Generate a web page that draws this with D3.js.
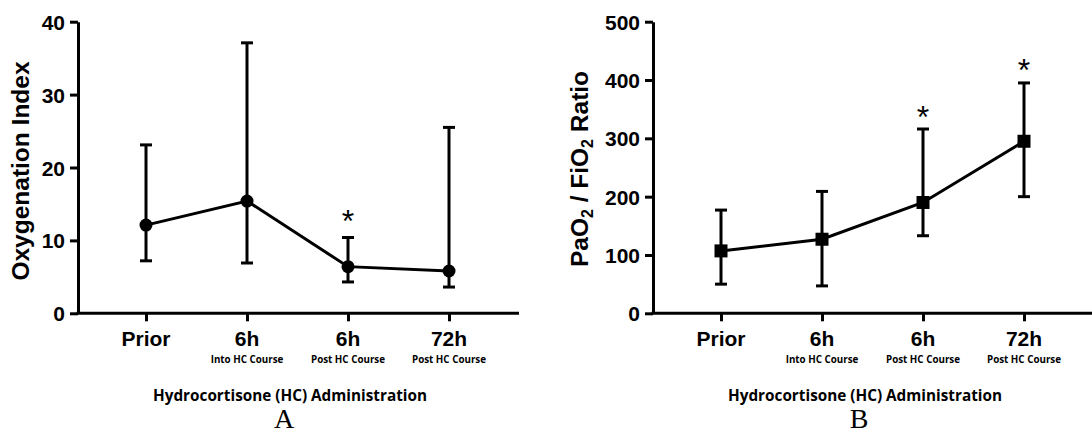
<!DOCTYPE html>
<html>
    <head>
        <script src="https://d3js.org/d3.v7.min.js"></script>
        <style>
            body{ margin:0; background:#fff; }
            .tick text{ font-family:"Liberation Sans", Arial, sans-serif; font-weight:bold; }
        </style>
    </head>
    <body>
        <svg height="436" width="1092" id="chart"></svg>
        <script>
            // x categories (two-line labels)
            const tickMain=["Prior", "6h", "6h", "72h"];
            const tickSub=["", "Into HC Course", "Post HC Course", "Post HC Course"];

            // A: oxygenation index, median with range
            const oiMean=[12.1, 15.4, 6.4, 5.8];
            const oiLow=[7.2, 6.9, 4.3, 3.6];
            const oiHigh=[23.1, 37.1, 10.4, 25.5];
            const oiSig=[false, false, true, false];
            const oiTicks=[0, 10, 20, 30, 40];

            // B: PaO2 / FiO2 ratio
            const pfMean=[107, 127, 190, 295];
            const pfLow=[50, 47, 133, 200];
            const pfHigh=[177, 209, 316, 395];
            const pfSig=[false, false, true, true];
            const pfTicks=[0, 100, 200, 300, 400, 500];

            const xTitle="Hydrocortisone (HC) Administration";

            let svg=d3.select("#chart");
            const plotTop=21.7, plotBottom=313.3;

            function drawPanel(opt){
                let g=svg.append("g");
                let x=d3.scaleLinear().domain([0, 3]).range([opt.axisX+68, opt.axisX+68+303]);
                let y=d3.scaleLinear().domain([0, opt.max]).range([plotBottom, plotTop]);

                // y axis
                let yAxis=g.append("g")
                    .attr("transform", `translate(${opt.axisX},0)`)
                    .call(d3.axisLeft(y).tickValues(opt.ticks).tickSize(8).tickSizeOuter(0).tickPadding(5));
                yAxis.selectAll("text").style("font-size", "21px").attr("dy", "0.36em");

                // x axis
                let xAxis=g.append("g")
                    .attr("transform", `translate(0,${plotBottom})`)
                    .call(d3.axisBottom(x).tickValues([0, 1, 2, 3]).tickSize(8).tickSizeOuter(0).tickFormat(""));
                xAxis.select(".domain").attr("d", `M${opt.axisX-1.5},0H${opt.axisEnd}`);

                svg.selectAll(".domain, .tick line")
                    .attr("stroke", "#000")
                    .attr("stroke-width", 3);

                // category labels
                g.selectAll("text.main").data(tickMain).join("text")
                    .attr("class", "main")
                    .attr("x", (d, i)=>x(i))
                    .attr("y", 345.5)
                    .attr("text-anchor", "middle")
                    .style("font-family", "'Liberation Sans', Arial, sans-serif")
                    .style("font-weight", "bold")
                    .style("font-size", "21px")
                    .text(d=>d);
                g.selectAll("text.sub").data(tickSub).join("text")
                    .attr("class", "sub")
                    .attr("x", (d, i)=>x(i))
                    .attr("y", 363)
                    .attr("text-anchor", "middle")
                    .style("font-family", "'Open Sans', sans-serif")
                    .style("font-weight", 700)
                    .style("font-size", "9.8px")
                    .text(d=>d);

                // x title
                g.append("text")
                    .attr("x", opt.axisX+212)
                    .attr("y", 400.5)
                    .attr("text-anchor", "middle")
                    .style("font-family", "'Open Sans', sans-serif")
                    .style("font-weight", 700)
                    .style("font-size", "15.3px")
                    .text(xTitle);

                // panel letter
                g.append("text")
                    .attr("x", opt.axisX+206)
                    .attr("y", 428)
                    .attr("text-anchor", "middle")
                    .style("font-family", "'Liberation Serif', 'Times New Roman', serif")
                    .style("font-size", "28px")
                    .text(opt.letter);

                // y title
                let yt=g.append("text")
                    .attr("transform", `translate(${opt.titleX},${opt.titleY}) rotate(-90)`)
                    .attr("text-anchor", "middle")
                    .style("font-family", "'Liberation Sans', Arial, sans-serif")
                    .style("font-weight", "bold")
                    .style("font-size", "24.5px");
                opt.title(yt);

                // error bars
                let idx=d3.range(opt.mean.length);
                let bars=g.selectAll("g.err").data(idx).join("g").attr("class", "err")
                    .attr("stroke", "#000").attr("stroke-width", 3);
                bars.append("line")
                    .attr("x1", i=>x(i)).attr("x2", i=>x(i))
                    .attr("y1", i=>y(opt.low[i])).attr("y2", i=>y(opt.high[i]));
                bars.append("line")
                    .attr("x1", i=>x(i)-6).attr("x2", i=>x(i)+6)
                    .attr("y1", i=>y(opt.low[i])).attr("y2", i=>y(opt.low[i]));
                bars.append("line")
                    .attr("x1", i=>x(i)-6).attr("x2", i=>x(i)+6)
                    .attr("y1", i=>y(opt.high[i])).attr("y2", i=>y(opt.high[i]));

                // connecting line
                g.append("path")
                    .datum(idx)
                    .attr("d", d3.line().x(i=>x(i)).y(i=>y(opt.mean[i])))
                    .attr("fill", "none")
                    .attr("stroke", "#000")
                    .attr("stroke-width", 3);

                // markers
                if(opt.marker=="circle"){
                    g.selectAll("circle.pt").data(idx).join("circle")
                        .attr("class", "pt")
                        .attr("cx", i=>x(i)).attr("cy", i=>y(opt.mean[i]))
                        .attr("r", 6.5).attr("fill", "#000");
                } else {
                    g.selectAll("rect.pt").data(idx).join("rect")
                        .attr("class", "pt")
                        .attr("x", i=>x(i)-6.5).attr("y", i=>y(opt.mean[i])-6.5)
                        .attr("width", 13).attr("height", 13).attr("fill", "#000");
                }

                // significance stars, centred a fixed gap above the upper cap
                idx.filter(i=>opt.sig[i]).forEach(i=>{
                    let t=g.append("text")
                        .attr("x", x(i))
                        .attr("y", 0)
                        .attr("text-anchor", "middle")
                        .style("font-family", "'Liberation Sans', Arial, sans-serif")
                        .style("font-size", "32px")
                        .text("*");
                    let b=t.node().getBBox();
                    let cy=y(opt.high[i])-opt.starGap;
                    t.attr("y", cy-(b.y+b.height/2));
                });
            }

            drawPanel({
                axisX:78, axisEnd:519, max:40, ticks:oiTicks,
                mean:oiMean, low:oiLow, high:oiHigh, sig:oiSig, starGap:16,
                marker:"circle", letter:"A", titleX:29, titleY:171,
                title:t=>t.text("Oxygenation Index")
            });

            drawPanel({
                axisX:653, axisEnd:1092, max:500, ticks:pfTicks,
                mean:pfMean, low:pfLow, high:pfHigh, sig:pfSig, starGap:12.5,
                marker:"square", letter:"B", titleX:588, titleY:169,
                title:t=>{
                    t.append("tspan").text("PaO");
                    t.append("tspan").attr("dy", 5).style("font-size", "16px").text("2");
                    t.append("tspan").attr("dy", -5).text(" / FiO");
                    t.append("tspan").attr("dy", 5).style("font-size", "16px").text("2");
                    t.append("tspan").attr("dy", -5).text(" Ratio");
                }
            });
        </script>
    </body>
</html>
